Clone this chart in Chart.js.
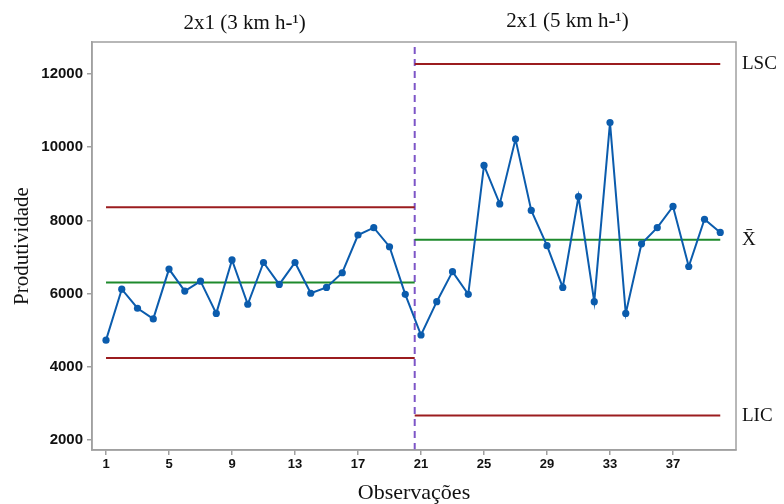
<!DOCTYPE html>
<html>
<head>
<meta charset="utf-8">
<script src="https://cdn.jsdelivr.net/npm/chart.js@4/dist/chart.umd.min.js"></script>
<style>
  body { margin: 0; background: #fff; }
  canvas { display: block; }
</style>
</head>
<body>
<canvas id="carta" width="784" height="504"></canvas>
<script>
// observações e produtividade
var obs = [1, 2, 3, 4, 5, 6, 7, 8, 9, 10, 11, 12, 13, 14, 15, 16, 17, 18, 19, 20,
           21, 22, 23, 24, 25, 26, 27, 28, 29, 30, 31, 32, 33, 34, 35, 36, 37, 38, 39, 40];
var produtividade = [4730, 6120, 5600, 5310, 6670, 6070, 6340, 5460, 6920, 5710,
                     6850, 6250, 6850, 6010, 6170, 6570, 7600, 7800, 7280, 5980,
                     4870, 5780, 6600, 5980, 9500, 8450, 10220, 8270, 7310, 6170,
                     8650, 5780, 10670, 5460, 7360, 7800, 8380, 6740, 8030, 7670];

// fases e limites de controle
var fases = ['2x1 (3 km h-\u00b9)', '2x1 (5 km h-\u00b9)'];
var faseInicio = [1, 20.6];
var faseFim = [20.6, 40];
var lsc = [8360, 12270];
var media = [6300, 7470];
var lic = [4240, 2670];
var rotulosLimites = ['LSC', 'X\u0304', 'LIC'];

var xTicks = [1, 5, 9, 13, 17, 21, 25, 29, 33, 37];
var yTicks = [2000, 4000, 6000, 8000, 10000, 12000];
var yMin = 1730, yMax = 12870;
var divisao = 20.6;

var pontos = [];
obs.forEach(function (o, i) {
  pontos.push({x: o, y: produtividade[i]});
});

var datasets = [{
  data: pontos,
  borderColor: '#0b5cad',
  backgroundColor: '#0b5cad',
  borderWidth: 2,
  pointRadius: 3.6,
  pointBorderWidth: 0,
  pointBackgroundColor: '#0b5cad'
}];

function segmento(v, f, cor) {
  return {
    data: [{x: faseInicio[f], y: v}, {x: faseFim[f], y: v}],
    borderColor: cor,
    borderWidth: 2,
    pointRadius: 0
  };
}
for (var f = 0; f < fases.length; f++) {
  datasets.push(segmento(media[f], f, '#1e8a2c'));
  datasets.push(segmento(lsc[f], f, '#9b1c1f'));
  datasets.push(segmento(lic[f], f, '#9b1c1f'));
}
datasets.push({
  data: [{x: divisao, y: yMin}, {x: divisao, y: yMax}],
  borderColor: '#7d55c7',
  borderWidth: 2,
  borderDash: [7, 5],
  pointRadius: 0
});

var molduraPlugin = {
  id: 'moldura',
  afterDraw: function (chart) {
    var ctx = chart.ctx, a = chart.chartArea;
    var xs = chart.scales.x, ys = chart.scales.y;
    ctx.save();
    ctx.strokeStyle = '#a0a0a0';
    ctx.lineWidth = 1.5;
    ctx.strokeRect(a.left, a.top, a.right - a.left, a.bottom - a.top);

    ctx.fillStyle = '#111';
    ctx.font = '21px "Liberation Serif", "Times New Roman", serif';
    ctx.textAlign = 'center';
    ctx.textBaseline = 'middle';
    var centros = [9.8, 30.3];
    var alturas = [23, 21];
    fases.forEach(function (t, i) {
      ctx.fillText(t, xs.getPixelForValue(centros[i]), alturas[i]);
    });

    ctx.font = '19px "Liberation Serif", "Times New Roman", serif';
    ctx.textAlign = 'left';
    var ult = fases.length - 1;
    var vals = [lsc[ult], media[ult], lic[ult]];
    rotulosLimites.forEach(function (t, i) {
      ctx.fillText(t, a.right + 6, ys.getPixelForValue(vals[i]));
    });
    ctx.restore();
  }
};

var serif = '"Liberation Serif", "Times New Roman", serif';
var sans = '"Liberation Sans", Arial, sans-serif';

new Chart(document.getElementById('carta').getContext('2d'), {
  type: 'line',
  data: {datasets: datasets},
  options: {
    responsive: false,
    animation: false,
    devicePixelRatio: 1,
    layout: {padding: {top: 42, right: 48, left: 0, bottom: 0}},
    plugins: {legend: {display: false}, tooltip: {enabled: false}},
    scales: {
      x: {
        type: 'linear',
        min: 0.11,
        max: 41,
        afterBuildTicks: function (s) {
          s.ticks = xTicks.map(function (v) { return {value: v}; });
        },
        afterFit: function (s) { s.height = 54; },
        ticks: {color: '#111', font: {family: sans, size: 13, weight: 'bold'}, padding: 2,
                autoSkip: false, maxRotation: 0, callback: function (v) { return String(v); }},
        grid: {drawOnChartArea: false, drawTicks: true, tickLength: 5, color: '#a0a0a0', lineWidth: 1.5},
        border: {color: '#a0a0a0', width: 1.5},
        title: {display: true, text: 'Observações', color: '#111',
                font: {family: serif, size: 22, lineHeight: 1}, padding: {top: 0, bottom: 0}}
      },
      y: {
        min: yMin,
        max: yMax,
        afterBuildTicks: function (s) {
          s.ticks = yTicks.map(function (v) { return {value: v}; });
        },
        afterFit: function (s) { s.width = 92; },
        ticks: {color: '#111', font: {family: sans, size: 15, weight: 'bold'}, padding: 4,
                callback: function (v) { return String(v); }},
        grid: {drawOnChartArea: false, drawTicks: true, tickLength: 5, color: '#a0a0a0', lineWidth: 1.5},
        border: {color: '#a0a0a0', width: 1.5},
        title: {display: true, text: 'Produtividade', color: '#111',
                font: {family: serif, size: 21, lineHeight: 1}, padding: {top: 11.5, bottom: 0}}
      }
    }
  },
  plugins: [molduraPlugin]
});
</script>
</body>
</html>
